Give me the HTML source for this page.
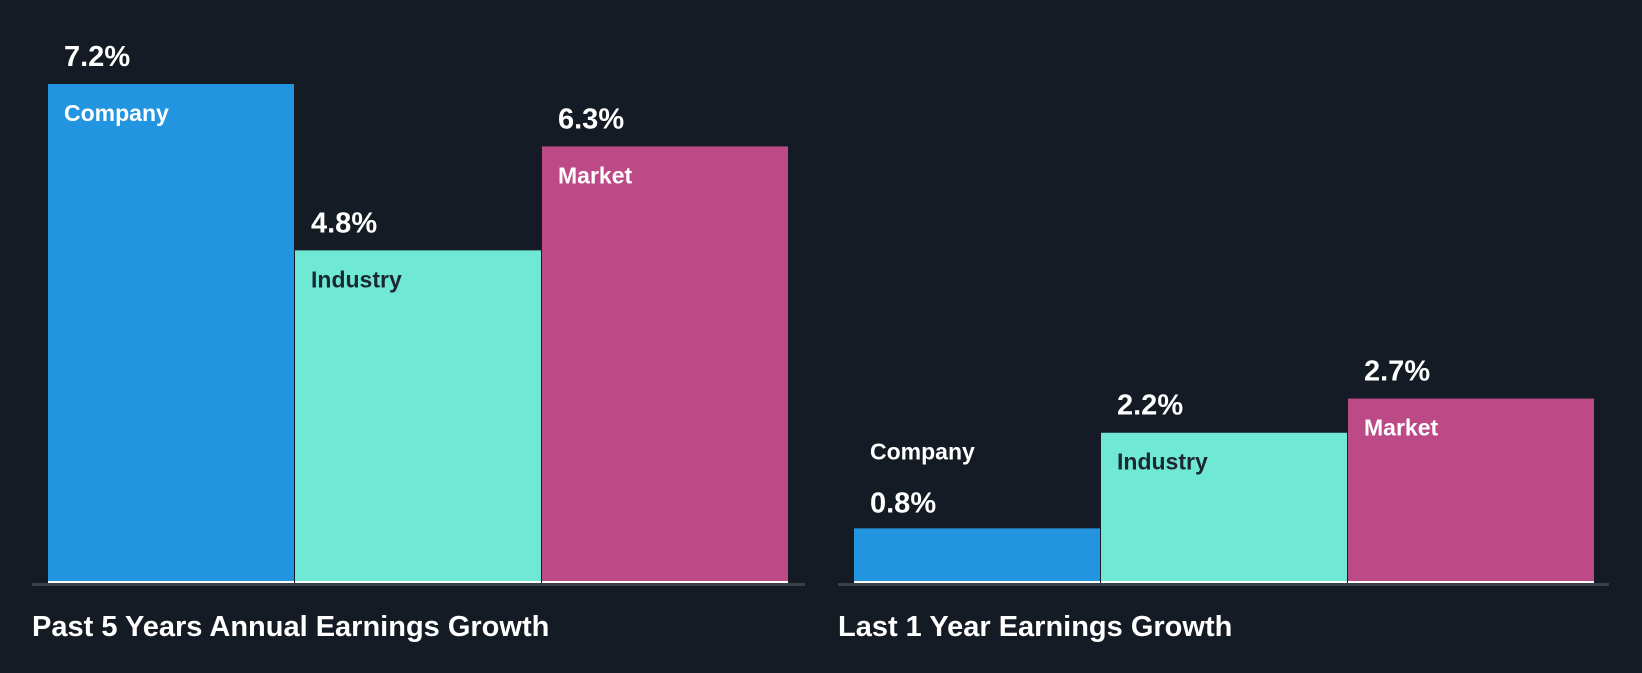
<!DOCTYPE html>
<html><head><meta charset="utf-8"><style>
html,body{margin:0;padding:0;background:#151b24;}
body{width:1642px;height:668px;overflow:hidden;font-family:"Liberation Sans",sans-serif;}
svg text{font-family:"Liberation Sans",sans-serif;font-weight:bold;}
</style></head><body>
<svg id="chart" width="1642" height="668" viewBox="0 0 1642 668" xmlns="http://www.w3.org/2000/svg">
<rect width="1642" height="668" fill="#151b24"/>
</svg>
<script>
const categories = ["Company", "Industry", "Market"];
const pastFiveYears = [7.2, 4.8, 6.3];
const lastOneYear = [0.8, 2.2, 2.7];
const panelTitles = ["Past 5 Years Annual Earnings Growth", "Last 1 Year Earnings Growth"];

const NS = "http://www.w3.org/2000/svg";
const svg = document.getElementById("chart");
const colors = ["#2394df", "#6fe8d6", "#bb4a86"];
const labelColors = ["#ffffff", "#1d2731", "#ffffff"];
const baseY = 583;

function mk(tag, attrs, parent) {
  const el = document.createElementNS(NS, tag);
  for (const k in attrs) el.setAttribute(k, attrs[k]);
  (parent || svg).appendChild(el);
  return el;
}

function drawPanel(values, title, x0, barW, scale, axisX0, axisX1, key) {
  const g = mk("g", {});
  
  
  const yScale = v => baseY - v * scale;
  const ax = mk("rect", {x: axisX0, y: baseY, width: axisX1 - axisX0, height: 3, fill: "#3b4048"}, g);
  
  
  values.forEach((v, i) => {
    const x = x0 + i * barW;
    const top = yScale(v);
    const bar = mk("rect", {x: x, y: top, width: barW - 1, height: baseY - top, fill: colors[i]}, g);
    
    
    const wl = mk("rect", {x: x, y: baseY - 2, width: barW - 1, height: 2, fill: "#ffffff"}, g);
    
    
    const inside = (baseY - top) > 80;
    const val = mk("text", {x: x + 16, y: inside ? top - 18 : top - 16, fill: "#ffffff", "font-size": 29}, g);
    val.textContent = v.toFixed(1) + "%";
    
    
    const lab = mk("text", {x: x + 16, y: inside ? top + 37 : top - 69, fill: inside ? labelColors[i] : "#ffffff", "font-size": 23}, g);
    lab.textContent = categories[i];
    
    
  });
  const t = mk("text", {x: axisX0, y: 636, fill: "#ffffff", "font-size": 29}, g);
  t.textContent = title;
  
  
}

drawPanel(pastFiveYears, panelTitles[0], 48, 247, 69.3, 32, 805, "past-5-years");
drawPanel(lastOneYear, panelTitles[1], 854, 247, 68.3, 838, 1609, "last-1-year");
</script>
</body></html>
